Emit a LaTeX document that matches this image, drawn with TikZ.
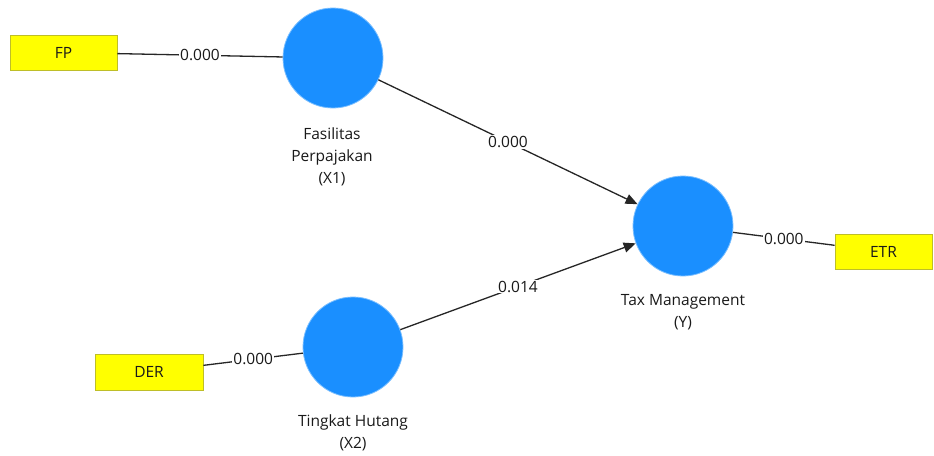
\documentclass[tikz,border=0pt]{standalone}
\usepackage{fontspec}
\setmainfont{Open Sans}
\usetikzlibrary{arrows.meta}
\definecolor{lvblue}{RGB}{26,143,255}
\definecolor{lvedge}{RGB}{120,190,255}
\definecolor{indyellow}{RGB}{255,255,0}
\definecolor{indedge}{RGB}{190,190,40}
\definecolor{txt}{RGB}{25,25,25}
\begin{document}
\begin{tikzpicture}[x=1pt,y=-1pt,
  latent/.style={circle, fill=lvblue, draw=lvedge, line width=0.8pt, minimum size=100pt, inner sep=0pt},
  indic/.style={rectangle, fill=indyellow, draw=indedge, line width=0.8pt, minimum width=107pt, minimum height=35pt, inner sep=0pt, font=\fontsize{15.5}{18}\selectfont, text=txt},
  lbl/.style={align=center, font=\fontsize{15.5}{22}\selectfont, text=txt},
  conn/.style={draw=black!85, line width=1.3pt},
  arr/.style={conn, -{Triangle[length=12pt,width=10pt]}},
  wlab/.style={fill=white, inner sep=1pt, font=\fontsize{15.5}{18}\selectfont, text=txt, midway}]
\useasboundingbox (0,0) rectangle (934,455);
\fill[white] (0,0) rectangle (934,455);

\node[latent] (x1) at (333,58) {};
\node[latent] (y) at (683,226) {};
\node[latent] (x2) at (353,347) {};

\node[indic] (fp) at (63.5,52.5) {FP};
\node[indic, minimum width=108pt, minimum height=36pt] (der) at (149,372) {DER};
\node[indic, minimum width=97pt] (etr) at (883.5,251.5) {ETR};

\node[lbl] (lx1) at (332,157) {Fasilitas\\Perpajakan\\(X1)};
\node[lbl] (ly) at (683,312) {Tax Management\\(Y)};
\node[lbl] (lx2) at (353,433) {Tingkat Hutang\\(X2)};

\draw[conn] (fp) -- node[wlab] (e1) {0.000} (x1);
\draw[conn] (der) -- node[wlab] (e2) {0.000} (x2);
\draw[conn] (y) -- node[wlab] (e3) {0.000} (etr);
\draw[arr] (x1) -- node[wlab] (e4) {0.000} (y);
\draw[arr] (x2) -- node[wlab] (e5) {0.014} (y);
\end{tikzpicture}
\end{document}
